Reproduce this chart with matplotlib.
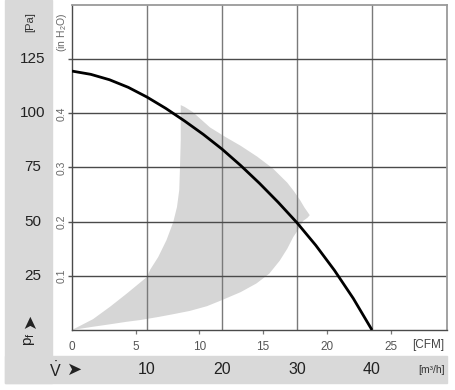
import matplotlib

matplotlib.use("Agg")
import matplotlib.pyplot as plt
import matplotlib.transforms as mtransforms
from matplotlib.patches import Rectangle

plt.rcParams["font.family"] = ["Liberation Sans", "DejaVu Sans"]
plt.rcParams["mathtext.fontset"] = "custom"
plt.rcParams["mathtext.rm"] = "Liberation Sans"
plt.rcParams["mathtext.it"] = "Liberation Sans:italic"

# fan curve: flow in m3/h, static pressure in Pa
flow = [0, 2.5, 5, 7.5, 10, 12.5, 15, 17.5, 20, 22.5, 25, 27.5, 30, 32.5, 35, 37.5, 40]
pressure = [119.5, 118.0, 115.5, 112.0, 107.5, 102.3, 96.5, 90.3, 83.5, 75.9, 67.7,
            58.9, 49.5, 39.1, 27.5, 14.6, 0]

# shaded operating zone, outline (m3/h, Pa)
zone_flow = [0, 2.8, 5.0, 7.3, 9.1, 11.5, 13.5, 15.7, 18.0, 20.0, 22.5, 24.6, 26.3,
             27.7, 28.7, 29.5, 30.3, 30.8, 31.4, 31.7, 31.5, 31.0, 30.4, 29.6, 28.7,
             26.8, 24.7, 22.5, 20.5, 18.4, 16.1, 15.0, 14.5, 14.5, 14.4, 14.3, 14.0,
             13.5, 12.6, 11.5, 10.4, 10.0, 7.3, 5.1, 2.8, 0]
zone_pa = [0, 1.5, 2.6, 3.8, 4.6, 6.0, 7.3, 8.8, 11.0, 13.8, 17.5, 21.5, 26.0,
           32.0, 37.5, 42.9, 47.0, 50.3, 51.8, 53.0, 54.0, 56.5, 60.0, 64.0, 68.0,
           74.5, 80.0, 85.0, 89.0, 93.5, 100.6, 103.0, 103.8, 87.7, 75.2, 64.6, 56.8,
           49.8, 41.5, 33.7, 27.7, 24.5, 16.8, 10.8, 5.0, 0]

pa_ticks = [25, 50, 75, 100, 125]
m3h_ticks = [10, 20, 30, 40]
cfm_ticks = [0, 5, 10, 15, 20, 25]
inh2o_ticks = [0.1, 0.2, 0.3, 0.4]

CFM_TO_M3H = 1.699
INH2O_TO_PA = 249.09

GREY = "#d9d9d9"
ZONE = "#d6d6d6"

W, H = 456, 390
fig = plt.figure(figsize=(W / 100, H / 100), dpi=100)


def fx(px):
    return px / W


def fy(py):
    return 1 - py / H


# grey L-shaped frame behind the scales
fig.patches.append(Rectangle((fx(5), fy(383)), fx(52) - fx(5), fy(0) - fy(383),
                             transform=fig.transFigure, color=GREY, zorder=-5))
fig.patches.append(Rectangle((fx(5), fy(383)), fx(447) - fx(5), fy(356) - fy(383),
                             transform=fig.transFigure, color=GREY, zorder=-5))

ax = fig.add_axes([fx(72), fy(330), fx(447) - fx(72), fy(5) - fy(330)])
ax.set_zorder(2)
ax.set_xlim(0, 50)
ax.set_ylim(0, 150)

ax.fill(zone_flow, zone_pa, color=ZONE, lw=0, zorder=1)
ax.plot(flow, pressure, color="black", lw=2.0, solid_capstyle="butt", zorder=3)

ax.set_xticks(m3h_ticks)
ax.set_yticks(pa_ticks)
ax.tick_params(labelbottom=False, labelleft=False)
ax.tick_params(axis="x", length=0)
ax.tick_params(axis="y", length=3, width=1.0, color="#555555", direction="out")
ax.xaxis.grid(True, color="#7a7a7a", lw=1.0)
ax.yaxis.grid(True, color="#4a4a4a", lw=1.0)
for side in ("left", "bottom"):
    ax.spines[side].set_color("#4a4a4a")
    ax.spines[side].set_linewidth(1.0)
for side in ("top", "right"):
    ax.spines[side].set_color("#9a9a9a")
    ax.spines[side].set_linewidth(1.3)

# CFM scale: small ticks under the bottom axis
sec = ax.secondary_xaxis("bottom", functions=(lambda x: x / CFM_TO_M3H,
                                              lambda c: c * CFM_TO_M3H))
sec.set_xticks(cfm_ticks[1:])
sec.tick_params(length=3, width=0.9, color="#777777", labelbottom=False)
sec.spines["bottom"].set_visible(False)

ytr = mtransforms.blended_transform_factory(ax.transAxes, ax.transData)
xtr = mtransforms.blended_transform_factory(ax.transData, ax.transAxes)
px_x = 1 / 375  # axes fraction per pixel, horizontal
px_y = 1 / 325  # axes fraction per pixel, vertical

for p in pa_ticks:
    ax.text(-39.5 * px_x, p, str(p), transform=ytr, ha="center", va="center",
            fontsize=11, color="#222222")
for v in inh2o_ticks:
    ax.text(-10 * px_x, v * INH2O_TO_PA, f"{v:.1f}", transform=ytr, rotation=90,
            ha="center", va="center", fontsize=7.5, color="#666666")
for c in cfm_ticks:
    ax.text(c * CFM_TO_M3H, -17 * px_y, str(c), transform=xtr, ha="center",
            va="center", fontsize=8.5, color="#555555")
for m in m3h_ticks:
    ax.text(m, -40 * px_y, str(m), transform=xtr, ha="center", va="center",
            fontsize=11.5, color="#222222")

# unit labels and axis symbols
ax.text(-42 * px_x, 308 * px_y, "[Pa]", transform=ax.transAxes, rotation=90,
        ha="center", va="center", fontsize=8, color="#333333")
ax.text(-10 * px_x, 298 * px_y, "(in H$_2$O)", transform=ax.transAxes, rotation=90,
        ha="center", va="center", fontsize=7.5, color="#666666")
ax.text(-42 * px_x, 10 * px_y, "➤", transform=ax.transAxes, rotation=90,
        ha="center", va="center", fontsize=13, color="#222222",
        family="DejaVu Sans")
ax.text(-42 * px_x, -9 * px_y, "p$_\\mathrm{f}$", transform=ax.transAxes,
        rotation=90, ha="center", va="center", fontsize=11, color="#222222")
ax.text(-17 * px_x, -40 * px_y, r"$\dot{\mathrm{V}}$", transform=ax.transAxes,
        ha="center", va="center", fontsize=11.5, color="#222222")
ax.text(2.5 * px_x, -40 * px_y, "➤", transform=ax.transAxes, ha="center",
        va="center", fontsize=13, color="#222222", family="DejaVu Sans")
ax.text(356 * px_x, -15 * px_y, "[CFM]", transform=ax.transAxes, ha="center",
        va="center", fontsize=8.5, color="#444444")
ax.text(360 * px_x, -40 * px_y, "[m³/h]", transform=ax.transAxes, ha="center",
        va="center", fontsize=7.5, color="#333333")

fig.savefig("out.png", dpi=100)
